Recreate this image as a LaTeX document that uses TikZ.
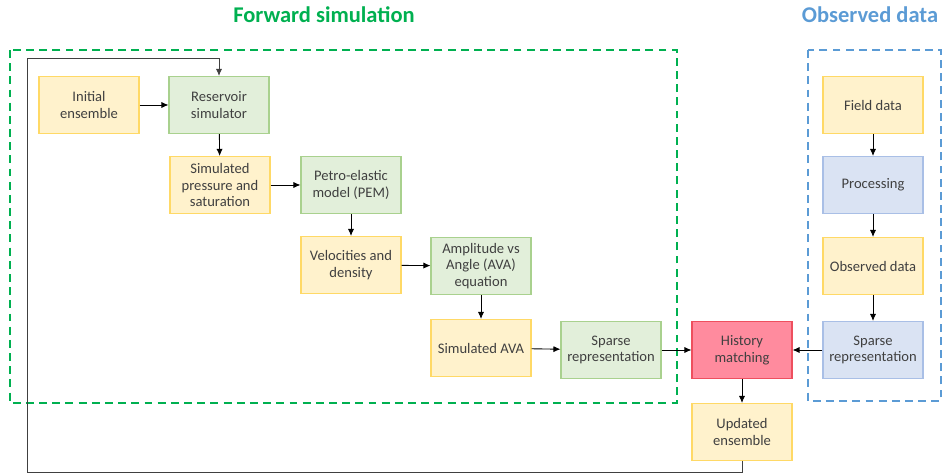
\documentclass[tikz,border=0pt]{standalone}
\usepackage{fontspec}
\setmainfont{Carlito}
\usetikzlibrary{arrows.meta}
\tikzset{>={Latex[width=3.5pt,length=4pt]}}
\definecolor{fwdgreen}{HTML}{00B050}
\definecolor{obsblue}{HTML}{5B9BD5}
\definecolor{yelfill}{HTML}{FFF2CC}
\definecolor{yeldraw}{HTML}{FFD966}
\definecolor{grnfill}{HTML}{E2EFDA}
\definecolor{grndraw}{HTML}{A9D18E}
\definecolor{blufill}{HTML}{DAE3F3}
\definecolor{bludraw}{HTML}{A9BFE6}
\definecolor{redfill}{HTML}{FF8B9E}
\definecolor{reddraw}{HTML}{EE4F5E}
\definecolor{linegray}{HTML}{404040}
\tikzset{
  box/.style={minimum width=2cm, minimum height=1.14cm,
    align=center, inner sep=0pt, line width=0.6pt, text=linegray,
    font=\fontsize{8.3}{9.6}\selectfont},
  ybox/.style={box, fill=yelfill, draw=yeldraw},
  gbox/.style={box, fill=grnfill, draw=grndraw},
  bbox/.style={box, fill=blufill, draw=bludraw},
  rbox/.style={box, fill=redfill, draw=reddraw},
  link/.style={->, draw=black, line width=0.5pt},
  frame/.style={line width=1.4pt, dash pattern=on 4.5pt off 3pt},
  heading/.style={font=\fontsize{12.8}{14}\selectfont\bfseries}
}
\begin{document}
\begin{tikzpicture}[x=0.02cm, y=-0.02cm]

  \useasboundingbox (0,0) rectangle (952,475);

  %% frames and headings
  \draw[frame, draw=fwdgreen] (10,50) rectangle (677,403);
  \draw[frame, draw=obsblue] (808,50) rectangle (941,401);
  \node[heading, text=fwdgreen] (fwdtitle) at (324,15) {Forward simulation};
  \node[heading, text=obsblue] (obstitle) at (870,15) {Observed data};

  %% forward simulation chain
  \node[ybox] (init) at (89,105) {Initial\\ensemble};
  \node[gbox] (res) at (219,105) {Reservoir\\simulator};
  \node[ybox] (sps) at (220,185) {Simulated\\pressure and\\saturation};
  \node[gbox] (pem) at (351,185) {Petro-elastic\\model (PEM)};
  \node[ybox] (vel) at (351,265) {Velocities and\\density};
  \node[gbox] (ava) at (481,266) {Amplitude vs\\Angle (AVA)\\equation};
  \node[ybox] (sava) at (481,348) {Simulated AVA};
  \node[gbox] (fsparse) at (611,350) {Sparse\\representation};

  %% matching and update
  \node[rbox] (hm) at (742,350) {History\\matching};
  \node[ybox] (upd) at (742,432) {Updated\\ensemble};

  %% observed data chain
  \node[ybox] (field) at (873,105) {Field data};
  \node[bbox] (proc) at (873,185) {Processing};
  \node[ybox] (obs) at (873,266) {Observed data};
  \node[bbox] (osparse) at (873,350) {Sparse\\representation};

  \draw[link] (init) -- (res);
  \draw[link] (res) -- (sps);
  \draw[link] (sps) -- (pem);
  \draw[link] (pem) -- (vel);
  \draw[link] (vel) -- (ava);
  \draw[link] (ava) -- (sava);
  \draw[link] (sava) -- (fsparse);
  \draw[link] (fsparse) -- (hm);
  \draw[link] (hm) -- (upd);

  \draw[link] (field) -- (proc);
  \draw[link] (proc) -- (obs);
  \draw[link] (obs) -- (osparse);
  \draw[link] (osparse) -- (hm);

  %% feedback loop
  \coordinate (fbA) at (27,472);
  \coordinate (fbB) at (27,58);
  \draw[link, draw=linegray] (upd.south) |- (fbA) -- (fbB) -| (res.north);

\end{tikzpicture}
\end{document}
